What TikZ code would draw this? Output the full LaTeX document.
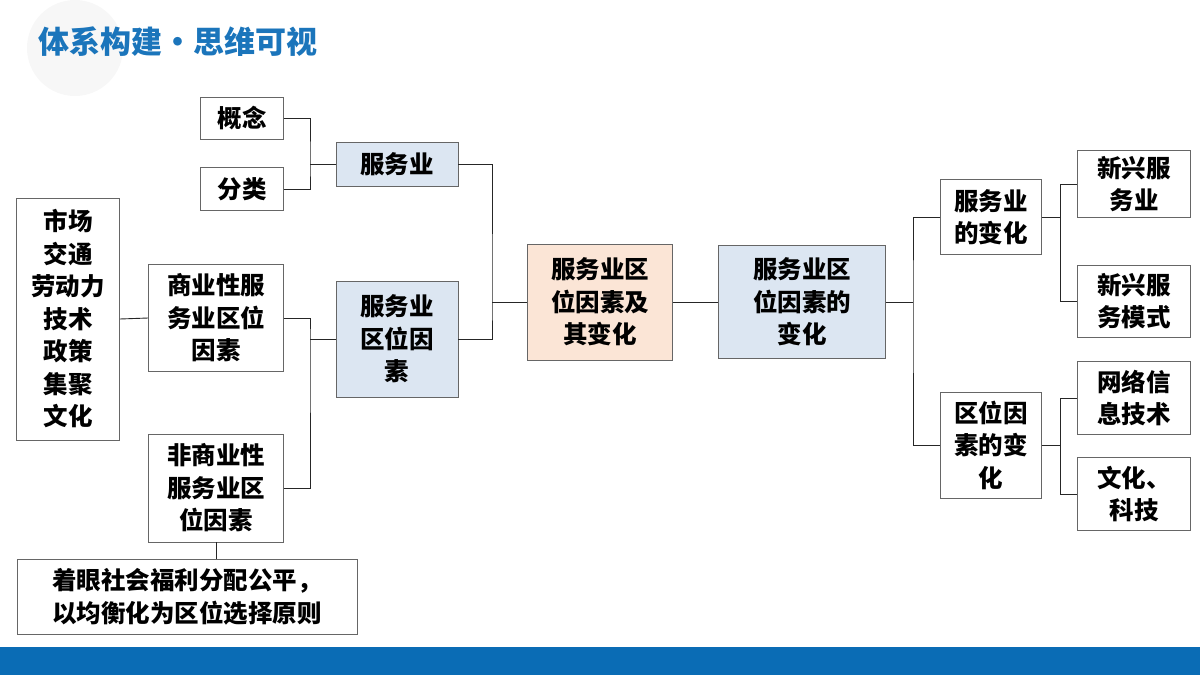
\documentclass[tikz,border=0pt]{standalone}
\usepackage{fontspec}
\setmainfont{Noto Sans CJK SC}
\definecolor{titleblue}{HTML}{1B75BB}
\definecolor{barblue}{HTML}{0A6CB5}
\definecolor{boxblue}{HTML}{DCE6F2}
\definecolor{boxpeach}{HTML}{FBE5D6}
\tikzset{
  box/.style={draw=black!60, line width=0.8pt, fill=white, align=center, inner sep=0pt,
    font=\fontsize{24.5}{32.5}\selectfont\bfseries},
  link/.style={draw=black!85, line width=0.9pt}
}
\begin{document}
\begin{tikzpicture}[x=1pt,y=-1pt]
  \useasboundingbox (0,0) rectangle (1200,675);
  \fill[barblue] (0,647) rectangle (1200,675);
  \fill[black!3] (75,48) circle (48);
  \node[anchor=west, text=titleblue, inner sep=0pt, font=\fontsize{31}{33}\selectfont\bfseries] (title) at (38,42) {体系构建•思维可视};
  % left part
  \node[box, minimum width=83, minimum height=42] (gn) at (242,118) {概念};
  \node[box, minimum width=83, minimum height=43] (fl) at (242,189) {分类};
  \node[box, fill=boxblue, minimum width=122, minimum height=44] (fwy) at (397,164) {服务业};
  \node[box, minimum width=103, minimum height=242] (sc) at (68,319) {市场\\交通\\劳动力\\技术\\政策\\集聚\\文化};
  \node[box, minimum width=135, minimum height=107] (sy) at (216,318) {商业性服\\务业区位\\因素};
  \node[box, fill=boxblue, minimum width=122, minimum height=116] (qw) at (397,339) {服务业\\区位因\\素};
  \node[box, minimum width=135, minimum height=108] (fsy) at (216,488) {非商业性\\服务业区\\位因素};
  \node[box, minimum width=340, minimum height=75] (zy) at (187,597) {着眼社会福利分配公平，\\以均衡化为区位选择原则};
  % middle
  \node[box, fill=boxpeach, minimum width=145, minimum height=116] (zx) at (600,302) {服务业区\\位因素及\\其变化};
  \node[box, fill=boxblue, minimum width=167, minimum height=113] (bh) at (802,302) {服务业区\\位因素的\\变化};
  % right part
  \node[box, minimum width=101, minimum height=75] (fb) at (991,217) {服务业\\的变化};
  \node[box, minimum width=101, minimum height=106] (qb) at (991,445) {区位因\\素的变\\化};
  \node[box, minimum width=113, minimum height=67] (xf) at (1134,184) {新兴服\\务业};
  \node[box, minimum width=113, minimum height=72] (xm) at (1134,301) {新兴服\\务模式};
  \node[box, minimum width=113, minimum height=73] (wl) at (1134,398) {网络信\\息技术};
  \node[box, minimum width=113, minimum height=73] (wh) at (1134,494) {文化、\\科技};
  % connectors
  \draw[link] (gn.east) -| (310,164) |- (fl.east);
  \draw[link] (310,164) -- (fwy.west);
  \draw[link] (fwy.east) -| (492,302) |- (qw.east);
  \draw[link] (492,302) -- (zx.west);
  \draw[link] (sc.east) -- (sy.west);
  \draw[link] (sy.east) -| (310,339) |- (fsy.east);
  \draw[link] (310,339) -- (qw.west);
  \draw[link] (fsy.south) -- (fsy.south |- zy.north);
  \draw[link] (zx.east) -- (bh.west);
  \draw[link] (fb.west) -| (913,302) |- (qb.west);
  \draw[link] (bh.east) -- (913,302);
  \draw[link] (xf.west) -| (1060,217) |- (xm.west);
  \draw[link] (fb.east) -- (1060,217);
  \draw[link] (wl.west) -| (1060,445) |- (wh.west);
  \draw[link] (qb.east) -- (1060,445);
\end{tikzpicture}
\end{document}
